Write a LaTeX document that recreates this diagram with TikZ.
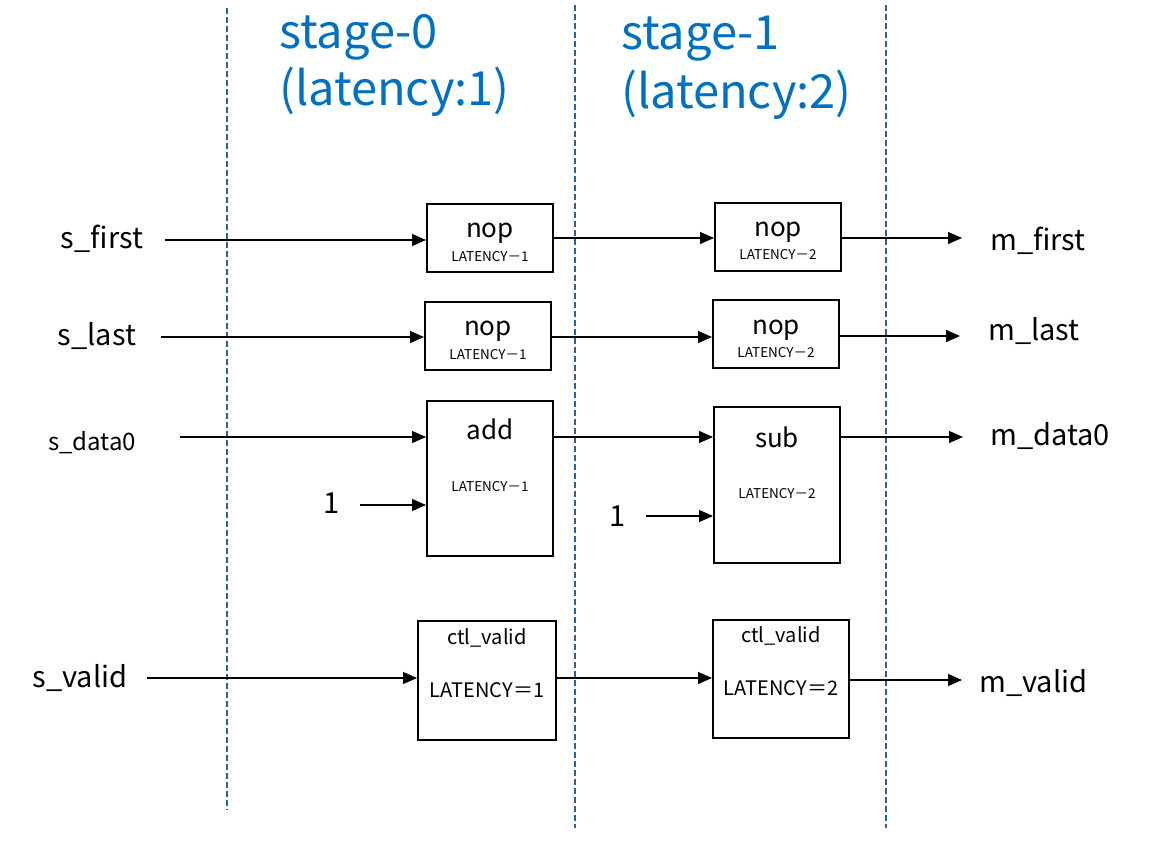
\documentclass[tikz,border=0pt]{standalone}
\usepackage{fontspec}
\setmainfont{Noto Sans CJK JP}
\usetikzlibrary{arrows.meta}
\definecolor{titleblue}{RGB}{0,112,192}
\definecolor{sepblue}{RGB}{40,100,140}
\tikzset{
  box/.style={draw, line width=2pt, rectangle, inner sep=0pt},
  arr/.style={line width=1.2pt, -{Triangle[length=14pt,width=12pt]}},
  sep/.style={draw=sepblue, line width=1.5pt, dash pattern=on 6pt off 3pt},
  sig/.style={font=\fontsize{29}{34}\selectfont, inner sep=0pt},
  op/.style={font=\fontsize{26}{30}\selectfont, inner sep=0pt},
  lat/.style={font=\fontsize{13.5}{16}\selectfont, inner sep=0pt},
  latb/.style={font=\fontsize{20}{24}\selectfont, inner sep=0pt},
  ttl/.style={font=\fontsize{47}{56}\selectfont, text=titleblue, anchor=west, inner sep=0pt},
}
\begin{document}
\begin{tikzpicture}[x=1pt,y=-1pt]
\useasboundingbox (0,0) rectangle (1167,843);
% separators
\draw[sep] (227,8) -- (227,810);
\draw[sep] (575,5) -- (575,828);
\draw[sep] (886,5) -- (886,828);
% titles
\node[ttl] (t0a) at (279,37) {stage-0};
\node[ttl] (t0b) at (279,92) {(latency:1)};
\node[ttl] (t1a) at (621,39) {stage-1};
\node[ttl] (t1b) at (621,95) {(latency:2)};
% boxes
\node[box, minimum width=126pt, minimum height=68pt] (f0) at (490,238) {};
\node[box, minimum width=126pt, minimum height=68pt] (f1) at (778,237) {};
\node[box, minimum width=126pt, minimum height=68pt] (l0) at (488,336) {};
\node[box, minimum width=126pt, minimum height=68pt] (l1) at (776,334) {};
\node[box, minimum width=126pt, minimum height=155pt] (d0) at (490,478.5) {};
\node[box, minimum width=126pt, minimum height=156pt] (d1) at (777,485) {};
\node[box, minimum width=138pt, minimum height=119pt] (v0) at (487,680.5) {};
\node[box, minimum width=136pt, minimum height=118pt] (v1) at (781,679) {};
% box texts
\node[op] (f0a) at (490,233) {nop};
\node[lat] (f0b) at (490,257) {LATENCY－1};
\node[op] (f1a) at (778,232) {nop};
\node[lat] (f1b) at (778,255) {LATENCY－2};
\node[op] (l0a) at (488,331) {nop};
\node[lat] (l0b) at (488,355) {LATENCY－1};
\node[op] (l1a) at (776,330) {nop};
\node[lat] (l1b) at (776,353) {LATENCY－2};
\node[op] (d0a) at (490,429) {add};
\node[lat] (d0b) at (490,487) {LATENCY－1};
\node[op] (d1a) at (777,437) {sub};
\node[lat] (d1b) at (777,494) {LATENCY－2};
\node[latb] (v0a) at (487,638) {ctl\_valid};
\node[latb] (v0b) at (487,690) {LATENCY＝1};
\node[latb] (v1a) at (781,636) {ctl\_valid};
\node[latb] (v1b) at (781,688) {LATENCY＝2};
% signal labels
\node[sig] (sf) at (102,239) {s\_first};
\node[sig] (sl) at (97,336) {s\_last};
\node[sig, font=\fontsize{24}{28}\selectfont] (sd) at (92,443) {s\_data0};
\node[sig] (one0) at (332,503) {1};
\node[sig] (one1) at (618,516) {1};
\node[sig] (sv) at (80,678) {s\_valid};
\node[sig, anchor=west] (mf) at (990,241) {m\_first};
\node[sig, anchor=west] (ml) at (988,331) {m\_last};
\node[sig, anchor=west] (md) at (990,436) {m\_data0};
\node[sig, anchor=west] (mv) at (979,683) {m\_valid};
% connector end points
\coordinate (csf) at (165,240);
\coordinate (csl) at (161,337);
\coordinate (csd) at (180,437);
\coordinate (c10) at (360,505);
\coordinate (c11) at (646,516);
\coordinate (csv) at (147,678);
\coordinate (cmf) at (962,238);
\coordinate (cml) at (960,336);
\coordinate (cmd) at (963,437);
\coordinate (cmv) at (962,680);
% connectors
\draw[arr] (csf) -- (csf -| f0.west);
\draw[arr] (f0.east) -- (f0.east -| f1.west);
\draw[arr] (f1.east |- cmf) -- (cmf);
\draw[arr] (csl) -- (csl -| l0.west);
\draw[arr] (l0.east |- 0,337) -- (l1.west |- 0,337);
\draw[arr] (l1.east |- cml) -- (cml);
\draw[arr] (csd) -- (csd -| d0.west);
\draw[arr] (d0.east |- csd) -- (d1.west |- csd);
\draw[arr] (d1.east |- cmd) -- (cmd);
\draw[arr] (c10) -- (c10 -| d0.west);
\draw[arr] (c11) -- (c11 -| d1.west);
\draw[arr] (csv) -- (csv -| v0.west);
\draw[arr] (v0.east |- csv) -- (v1.west |- csv);
\draw[arr] (v1.east |- cmv) -- (cmv);
\end{tikzpicture}
\end{document}
